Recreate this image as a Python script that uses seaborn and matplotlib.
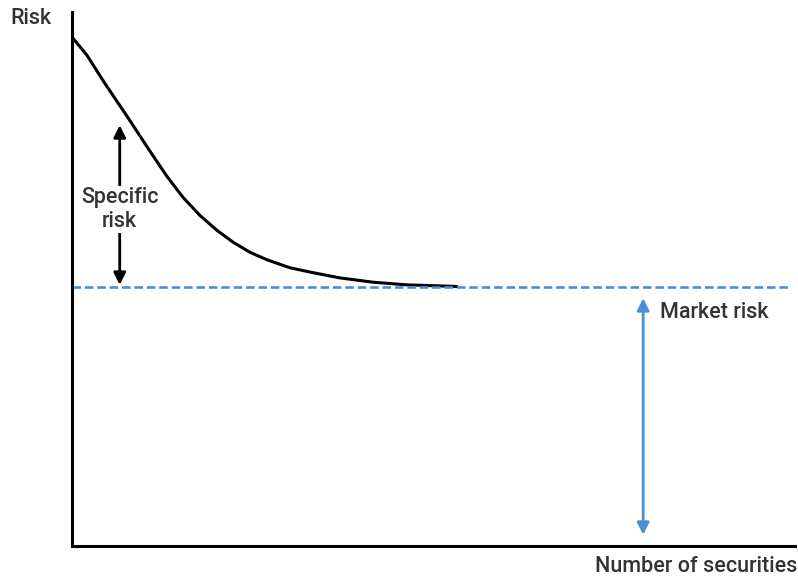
import matplotlib
matplotlib.use("Agg")
import matplotlib.pyplot as plt
import seaborn as sns
import pandas as pd

# curve (x = number of securities, y = risk), arbitrary units
n_securities = [0, 2.07, 4.56, 7.75, 10.65, 13.14, 15.35, 17.70, 20.06, 22.27,
                24.62, 26.97, 30.15, 32.92, 37.07, 41.63, 46.33, 53.25]
total_risk = [95.3, 91.9, 86.6, 80.2, 74.2, 69.2, 65.3, 61.9, 59.1, 56.9,
              55.0, 53.6, 52.1, 51.3, 50.2, 49.4, 48.9, 48.6]

market_x = [0, 99.3]
market_level = [48.5, 48.5]

specific_arrow = (6.6, 78.8, 48.9)   # x, top, bottom
market_arrow = (79.0, 46.4, 2.1)

text_color = "#333333"
blue = "#4a8fd6"

sns.set_style("white")
plt.rcParams["font.family"] = ["Roboto", "DejaVu Sans"]
plt.rcParams["font.weight"] = "medium"

fig = plt.figure(figsize=(7.98, 5.81), dpi=100)
ax = fig.add_axes([72 / 798, 35 / 581, 723 / 798, 534 / 581])

df = pd.DataFrame({"n": n_securities, "risk": total_risk})
sns.lineplot(data=df, x="n", y="risk", ax=ax, color="black", linewidth=2.2)
sns.lineplot(x=market_x, y=market_level, ax=ax, color=blue, linewidth=1.9,
             linestyle=(0, (3.2, 1.5)))

ax.set_xlim(0, 100)
ax.set_ylim(0, 100)

ax.annotate("", xy=(specific_arrow[0], specific_arrow[1]),
            xytext=(specific_arrow[0], specific_arrow[2]),
            arrowprops=dict(arrowstyle="<|-|>", color="black", lw=2,
                            mutation_scale=18, shrinkA=0, shrinkB=0))
ax.text(specific_arrow[0], 63.0, "Specific\nrisk", ha="center", va="center",
        fontsize=15.5, color=text_color, linespacing=1.15,
        bbox=dict(facecolor="white", edgecolor="none", pad=1))

ax.annotate("", xy=(market_arrow[0], market_arrow[1]),
            xytext=(market_arrow[0], market_arrow[2]),
            arrowprops=dict(arrowstyle="<|-|>", color=blue, lw=2,
                            mutation_scale=18, shrinkA=0, shrinkB=0))
ax.text(81.3, 43.8, "Market risk", ha="left", va="center",
        fontsize=15.5, color=text_color)

ax.set_xticks([])
ax.set_yticks([])
ax.set_xlabel("")
ax.set_ylabel("")
for s in ["top", "right"]:
    ax.spines[s].set_visible(False)
for s in ["left", "bottom"]:
    ax.spines[s].set_color("black")
    ax.spines[s].set_linewidth(2.2)

fig.text(10 / 798, 1 - 18 / 581, "Risk", ha="left", va="center",
         fontsize=15.5, color=text_color)
fig.text(797 / 798, 1 - 567 / 581, "Number of securities", ha="right",
         va="center", fontsize=15.5, color=text_color)

plt.savefig("out.png", dpi=100)
